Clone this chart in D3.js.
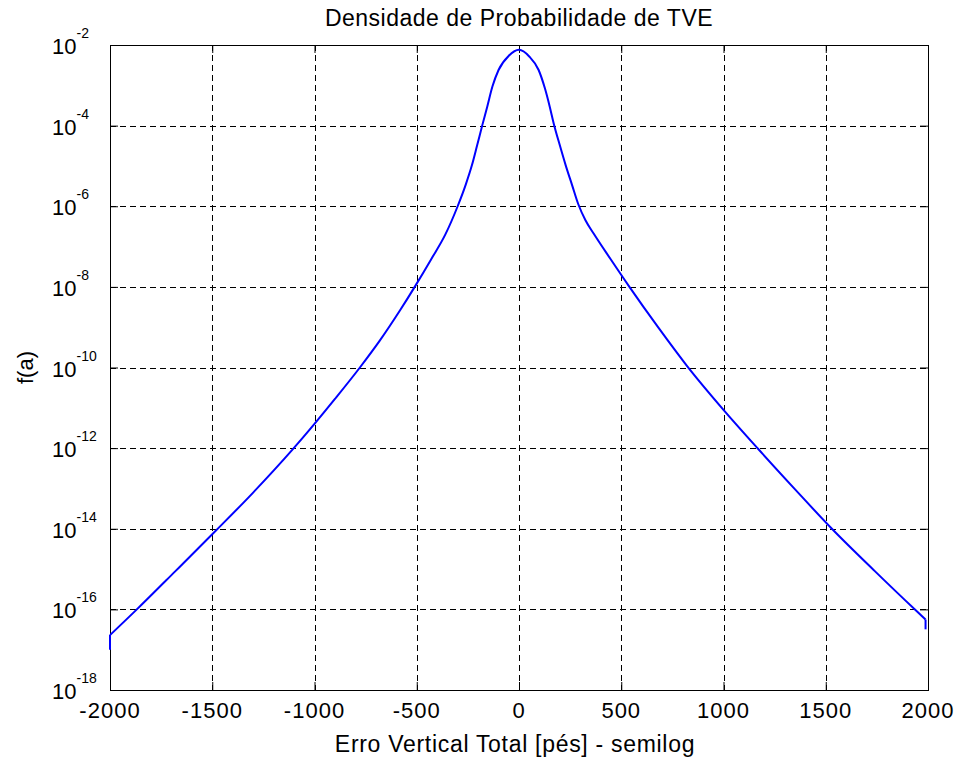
<!DOCTYPE html>
<html>
<head>
<meta charset="utf-8">
<script src="https://cdn.jsdelivr.net/npm/d3@7"></script>
<style>
  html, body { margin: 0; padding: 0; background: #fff; }
  svg { display: block; }
  text { font-family: "Liberation Sans", Arial, sans-serif; fill: #000; }
</style>
</head>
<body>
<svg id="chart" width="955" height="759"></svg>
<script>
// ---- data ----
const errorValues = [-2000, -2000, -1875, -1680, -1483, -1300, -1110, -1000, -900, -778, -680, -580, -510, -430, -360, -300,
                     -260, -230, -205, -180, -155, -130, -100, -50, 0,
                     50, 96, 127, 150, 170, 200, 228, 260, 290, 325, 365, 450, 540, 680, 823, 1000, 1170, 1350, 1530, 1740, 1940, 1988, 1988];
const densityValues = [1.0e-17, 2.3e-17, 9.3e-17, 8.9e-16, 8.9e-15, 7.9e-14, 8.9e-13, 4.0e-12, 1.66e-11, 1e-10, 4.7e-10, 2.7e-9, 1e-8, 4.8e-8, 2.0e-7, 1e-6,
                       3.5e-6, 1.05e-5, 3.2e-5, 1e-4, 3.0e-4, 9.3e-4, 2.4e-3, 5.4e-3, 7.6e-3,
                       5.2e-3, 2.4e-3, 8.3e-4, 3.0e-4, 1.12e-4, 3.2e-5, 1.05e-5, 3.3e-6, 1.12e-6, 4.5e-7, 2.1e-7, 4.7e-8, 1e-8, 1e-9, 1.07e-10, 8.9e-12, 9.5e-13, 9.5e-14, 1e-14, 8.9e-16, 9.5e-17, 5.6e-17, 3.2e-17];
const xTicks = [-2000, -1500, -1000, -500, 0, 500, 1000, 1500, 2000];
const yTickExponents = [-2, -4, -6, -8, -10, -12, -14, -16, -18];
const titleText = "Densidade de Probabilidade de TVE";
const xLabelText = "Erro Vertical Total [pés] - semilog";
const yLabelText = "f(a)";

// ---- layout ----
const pL = 110, pR = 928, pT = 45, pB = 690;
const svg = d3.select("#chart");
svg.append("rect").attr("width", 955).attr("height", 759).attr("fill", "#fff");

const x = d3.scaleLinear().domain([-2000, 2000]).range([pL, pR]);
const y = d3.scaleLog().domain([1e-18, 1e-2]).range([pB, pT]);
const yTicks = yTickExponents.map(e => Math.pow(10, e));

// grid
const grid = svg.append("g").attr("stroke", "#000").attr("stroke-width", 1)
  .attr("stroke-dasharray", "6,4").attr("shape-rendering", "crispEdges");
xTicks.slice(1, -1).forEach(v => {
  grid.append("line").attr("x1", Math.round(x(v)) + 0.5).attr("x2", Math.round(x(v)) + 0.5)
    .attr("y1", pT).attr("y2", pB);
});
yTicks.slice(1, -1).forEach(v => {
  grid.append("line").attr("y1", Math.round(y(v)) + 0.5).attr("y2", Math.round(y(v)) + 0.5)
    .attr("x1", pL).attr("x2", pR);
});

// axes (ticks inside, on all four sides)
const tl = 8;
const axB = d3.axisBottom(x).tickValues(xTicks).tickSize(-tl).tickFormat("");
const axT = d3.axisTop(x).tickValues(xTicks).tickSize(-tl).tickFormat("");
const axL = d3.axisLeft(y).tickValues(yTicks).tickSize(-tl).tickFormat("");
const axR = d3.axisRight(y).tickValues(yTicks).tickSize(-tl).tickFormat("");
function styleAxis(g) {
  g.select(".domain").remove();
  g.selectAll("line").attr("stroke", "#000").attr("stroke-width", 1);
}
svg.append("g").attr("transform", `translate(0,${pB})`).call(axB).call(styleAxis);
svg.append("g").attr("transform", `translate(0,${pT})`).call(axT).call(styleAxis);
svg.append("g").attr("transform", `translate(${pL},0)`).call(axL).call(styleAxis);
svg.append("g").attr("transform", `translate(${pR},0)`).call(axR).call(styleAxis);

// box
svg.append("rect").attr("x", pL + 0.5).attr("y", pT + 0.5)
  .attr("width", pR - pL).attr("height", pB - pT)
  .attr("fill", "none").attr("stroke", "#000").attr("stroke-width", 1.3)
  .attr("shape-rendering", "crispEdges");

// curve: smooth body + straight end drops
const pts = errorValues.map((v, i) => [v, densityValues[i]]);
const n = pts.length;
const smooth = d3.line().x(d => x(d[0])).y(d => y(d[1])).curve(d3.curveMonotoneX);
const straight = d3.line().x(d => x(d[0])).y(d => y(d[1]));
const curveG = svg.append("g").attr("fill", "none").attr("stroke", "#0000ff")
  .attr("stroke-width", 2).attr("stroke-linejoin", "round");
curveG.append("path").datum(pts.slice(1, n - 1)).attr("d", smooth);
curveG.append("path").datum(pts.slice(0, 2)).attr("d", straight);
curveG.append("path").datum(pts.slice(n - 2)).attr("d", straight);

// x tick labels
svg.append("g").selectAll("text").data(xTicks).join("text")
  .attr("x", d => x(d)).attr("y", 718).attr("text-anchor", "middle")
  .attr("font-size", 22).attr("letter-spacing", 1).text(d => String(d));

// y tick labels (10^e)
const yl = svg.append("g").selectAll("text").data(yTickExponents).join("text")
  .attr("x", 52).attr("y", d => y(Math.pow(10, d)) + 9).attr("font-size", 22);
yl.append("tspan").text("10");
yl.append("tspan").attr("dy", -16).attr("font-size", 14).text(d => String(d));

// title & labels
svg.append("text").attr("x", (pL + pR) / 2).attr("y", 26).attr("text-anchor", "middle")
  .attr("font-size", 23).attr("letter-spacing", 0.5).text(titleText);
svg.append("text").attr("x", (pL + pR) / 2 - 4).attr("y", 752).attr("text-anchor", "middle")
  .attr("font-size", 23).attr("letter-spacing", 0.7).text(xLabelText);
svg.append("text").attr("transform", `translate(33,${(pT + pB) / 2}) rotate(-90)`)
  .attr("text-anchor", "middle").attr("font-size", 22).text(yLabelText);
</script>
</body>
</html>
